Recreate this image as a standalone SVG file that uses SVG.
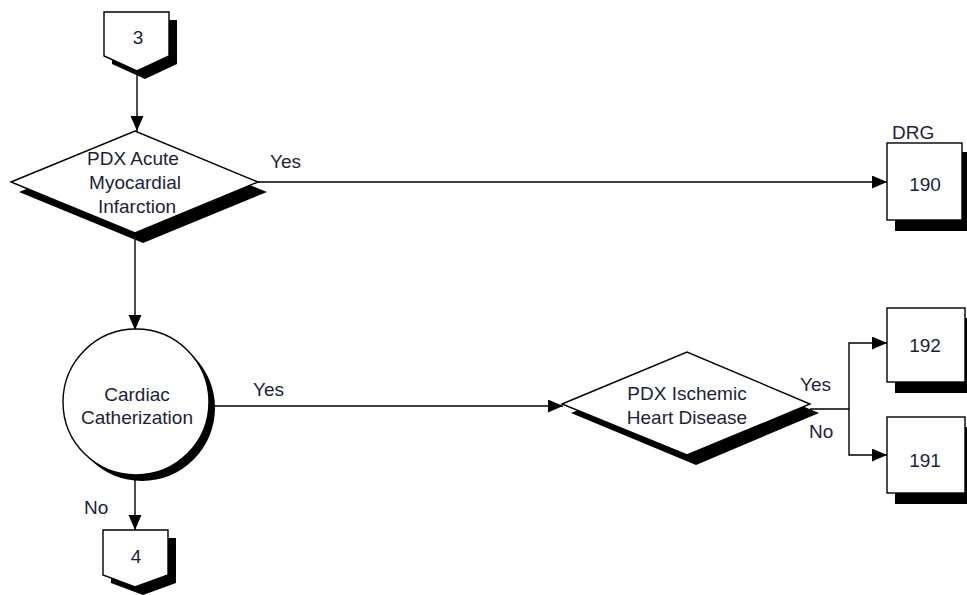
<svg xmlns="http://www.w3.org/2000/svg" width="967" height="595" viewBox="0 0 967 595">
  <style>
    .shape { fill: #ffffff; stroke: #000000; stroke-width: 1.4; }
    .shadow { fill: #000000; stroke: none; }
    .line { fill: none; stroke: #000000; stroke-width: 1.4; }
    text { font-family: "Liberation Sans", Arial, sans-serif; font-size: 19px; fill: #1e1e3a; text-anchor: middle; }
    .lbl { text-anchor: start; }
  </style>
  <defs>
    <marker id="arrow" markerUnits="userSpaceOnUse" markerWidth="16" markerHeight="14" refX="15" refY="6.5" orient="auto">
      <path d="M0,0 L15,6.5 L0,13 z" fill="#000000"/>
    </marker>
  </defs>

  <rect width="967" height="595" fill="#ffffff"/>

  <!-- connectors -->
  <g id="connectors">
    <line class="line" x1="137" y1="71" x2="137" y2="131" marker-end="url(#arrow)"/>
    <line class="line" x1="258" y1="182" x2="887" y2="182" marker-end="url(#arrow)"/>
    <line class="line" x1="135" y1="232" x2="135" y2="330" marker-end="url(#arrow)"/>
    <line class="line" x1="209" y1="406" x2="563" y2="406" marker-end="url(#arrow)"/>
    <line class="line" x1="135" y1="475" x2="135" y2="530" marker-end="url(#arrow)"/>
    <polyline class="line" points="810,409 849,409 849,343 887,343" marker-end="url(#arrow)"/>
    <polyline class="line" points="849,409 849,455 887,455" marker-end="url(#arrow)"/>
    <text class="lbl" x="270" y="168">Yes</text>
    <text class="lbl" x="253" y="396">Yes</text>
    <text class="lbl" x="84" y="514">No</text>
    <text class="lbl" x="800" y="391">Yes</text>
    <text class="lbl" x="809" y="438">No</text>
    <text class="lbl" x="892" y="139">DRG</text>
  </g>

  <!-- off-page connector 3 -->
  <g id="connector-3">
    <polygon class="shadow" points="112,20 177,20 177,64 145,79 112,64"/>
    <polygon class="shape" points="104,12 169,12 169,56 137,71 104,56"/>
    <text x="138" y="44">3</text>
  </g>

  <!-- decision: PDX Acute Myocardial Infarction -->
  <g id="decision-ami">
    <polygon class="shadow" points="19,192 143,141 267,192 143,243"/>
    <polygon class="shape" points="11,182 135,131 258,182 135,233"/>
    <text x="133" y="165">PDX Acute</text>
    <text x="135" y="189">Myocardial</text>
    <text x="137" y="213">Infarction</text>
  </g>

  <!-- DRG 190 -->
  <g id="drg-190">
    <rect class="shadow" x="895" y="152" width="75" height="79"/>
    <rect class="shape" x="887" y="143" width="75" height="77"/>
    <text x="925" y="191">190</text>
  </g>

  <!-- decision: Cardiac Catherization -->
  <g id="decision-cath">
    <circle class="shadow" cx="142" cy="408" r="73"/>
    <circle class="shape" cx="136" cy="402" r="73"/>
    <text x="137" y="401">Cardiac</text>
    <text x="137" y="424">Catherization</text>
  </g>

  <!-- decision: PDX Ischemic Heart Disease -->
  <g id="decision-ihd">
    <polygon class="shadow" points="571,413 696,362 819,413 696,465"/>
    <polygon class="shape" points="562,404 687,352 810,404 687,455"/>
    <text x="687" y="400">PDX Ischemic</text>
    <text x="687" y="424">Heart Disease</text>
  </g>

  <!-- DRG 192 -->
  <g id="drg-192">
    <rect class="shadow" x="895" y="318" width="75" height="75"/>
    <rect class="shape" x="887" y="308" width="78" height="74"/>
    <text x="925" y="352">192</text>
  </g>

  <!-- DRG 191 -->
  <g id="drg-191">
    <rect class="shadow" x="895" y="427" width="75" height="77"/>
    <rect class="shape" x="887" y="417" width="78" height="76"/>
    <text x="925" y="467">191</text>
  </g>

  <!-- off-page connector 4 -->
  <g id="connector-4">
    <polygon class="shadow" points="111,538 176,538 176,583 143,595 111,583"/>
    <polygon class="shape" points="103,530 168,530 168,575 135,587 103,575"/>
    <text x="136" y="563">4</text>
  </g>
</svg>
